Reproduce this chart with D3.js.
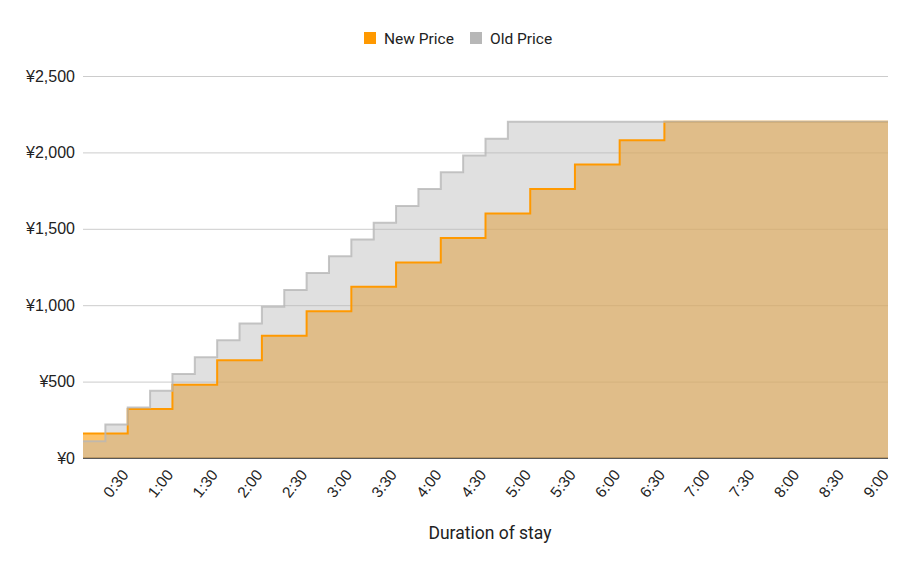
<!DOCTYPE html>
<html>
<head>
<meta charset="utf-8">
<script src="https://cdn.jsdelivr.net/npm/d3@7"></script>
<style>
  body { margin: 0; background: #fff; }
  svg { font-family: Roboto, "Noto Sans", sans-serif; }
</style>
</head>
<body>
<div id="chart"></div>
<script>
// duration of stay, every 15 minutes
var durations = ["0:00","0:15","0:30","0:45","1:00","1:15","1:30","1:45","2:00","2:15",
  "2:30","2:45","3:00","3:15","3:30","3:45","4:00","4:15","4:30","4:45",
  "5:00","5:15","5:30","5:45","6:00","6:15","6:30","6:45","7:00","7:15",
  "7:30","7:45","8:00","8:15","8:30","8:45","9:00"];

var newPrice = [160,160,320,320,480,480,640,640,800,800,
  960,960,1120,1120,1280,1280,1440,1440,1600,1600,
  1760,1760,1920,1920,2080,2080,2200,2200,2200,2200,
  2200,2200,2200,2200,2200,2200,2200];

var oldPrice = [110,220,330,440,550,660,770,880,990,1100,
  1210,1320,1430,1540,1650,1760,1870,1980,2090,2200,
  2200,2200,2200,2200,2200,2200,2200,2200,2200,2200,
  2200,2200,2200,2200,2200,2200,2200];

var xTickLabels = ["0:30","1:00","1:30","2:00","2:30","3:00","3:30","4:00","4:30",
  "5:00","5:30","6:00","6:30","7:00","7:30","8:00","8:30","9:00"];
var yTicks = [0, 500, 1000, 1500, 2000, 2500];

var seriesNames = ["New Price", "Old Price"];
var seriesColors = ["#ff9900", "#b7b7b7"];

var W = 917, H = 570;
var margin = {left: 83, right: 29, top: 76, bottom: 112};
var width = W - margin.left - margin.right;
var height = H - margin.top - margin.bottom;

function toMinutes(s) {
  var p = s.split(":");
  return (+p[0]) * 60 + (+p[1]);
}

var x = d3.scaleLinear().domain([0, 540]).range([0, width]);
var y = d3.scaleLinear().domain([0, 2500]).range([height, 0]);

var svg = d3.select("#chart").append("svg")
  .attr("width", W)
  .attr("height", H);

var main = svg.append("g")
  .attr("transform", "translate(" + margin.left + "," + margin.top + ")");

// gridlines + y labels
var yAxis = d3.axisLeft(y)
  .tickValues(yTicks)
  .tickSize(-width)
  .tickPadding(8)
  .tickFormat(function(d) { return "¥" + d3.format(",")(d); });

main.append("g")
  .attr("class", "yAxis")
  .call(yAxis)
  .call(function(g) {
    g.select(".domain").remove();
    g.selectAll(".tick line").attr("stroke", "#cccccc");
    g.selectAll(".tick text")
      .attr("fill", "#222")
      .style("font-size", "16px");
  });

// baseline
main.append("line")
  .attr("x1", 0).attr("x2", width)
  .attr("y1", y(0)).attr("y2", y(0))
  .attr("stroke", "#333")
  .attr("stroke-width", 1.5);

var data = [newPrice, oldPrice].map(function(vals) {
  return vals.map(function(v, i) { return {t: toMinutes(durations[i]), v: v}; });
});

var area = d3.area()
  .curve(d3.curveStepAfter)
  .x(function(d) { return x(d.t); })
  .y0(y(0))
  .y1(function(d) { return y(d.v); });

var line = d3.line()
  .curve(d3.curveStepAfter)
  .x(function(d) { return x(d.t); })
  .y(function(d) { return y(d.v); });

var areaOpacity = [0.6, 0.43];

data.forEach(function(d, i) {
  main.append("path")
    .attr("d", area(d))
    .attr("fill", seriesColors[i])
    .attr("fill-opacity", areaOpacity[i]);
});

var lineOpacity = [1, 0.8];
data.forEach(function(d, i) {
  main.append("path")
    .attr("d", line(d))
    .attr("fill", "none")
    .attr("stroke", seriesColors[i])
    .attr("stroke-opacity", lineOpacity[i])
    .attr("stroke-width", 2);
});

// x axis labels (slanted)
var xAxis = d3.axisBottom(x)
  .tickValues(xTickLabels.map(toMinutes))
  .tickSize(0)
  .tickFormat(function(d, i) { return xTickLabels[i]; });

main.append("g")
  .attr("transform", "translate(0," + height + ")")
  .call(xAxis)
  .call(function(g) {
    g.select(".domain").remove();
    g.selectAll(".tick text")
      .attr("fill", "#222")
      .style("font-size", "15.5px")
      .attr("text-anchor", "end")
      .attr("dy", 0)
      .attr("y", 0)
      .attr("x", 0)
      .attr("transform", "translate(1,17) rotate(-52)");
  });

// axis title
svg.append("text")
  .attr("x", 490)
  .attr("y", 539)
  .attr("text-anchor", "middle")
  .attr("fill", "#222")
  .style("font-size", "17.5px")
  .text("Duration of stay");

// legend
var legendX = [364, 470];
var legend = svg.append("g");
seriesNames.forEach(function(name, i) {
  legend.append("rect")
    .attr("x", legendX[i]).attr("y", 32)
    .attr("width", 12).attr("height", 12)
    .attr("fill", seriesColors[i]);
  legend.append("text")
    .attr("x", legendX[i] + 20).attr("y", 44)
    .attr("fill", "#222")
    .style("font-size", "15.5px")
    .text(name);
});
</script>
</body>
</html>
